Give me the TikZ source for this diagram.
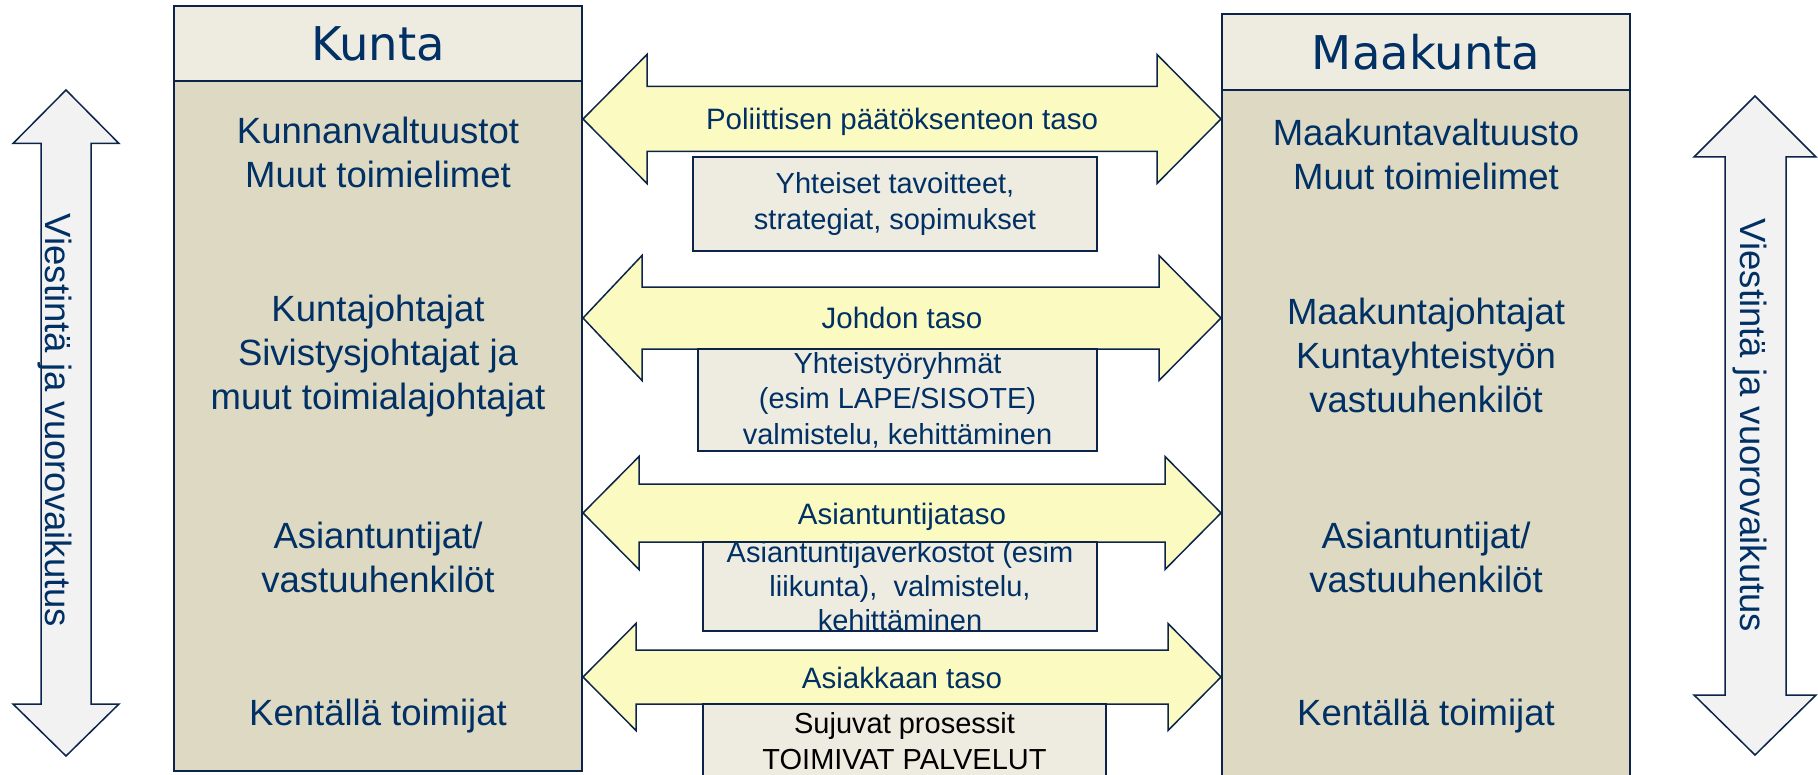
\documentclass[tikz,border=0pt]{standalone}
\usepackage{fontspec}
\setmainfont{Liberation Sans}
\newfontfamily\headfont{DejaVu Sans}
\definecolor{navy}{RGB}{0,48,100}
\definecolor{linecol}{RGB}{12,36,74}
\definecolor{headfill}{RGB}{238,236,225}
\definecolor{bodyfill}{RGB}{221,217,195}
\definecolor{arrowfill}{RGB}{251,251,193}
\definecolor{greyfill}{RGB}{242,242,242}

\begin{document}
\begin{tikzpicture}[x=0.5pt, y=-0.5pt,
  headbox/.style={draw=linecol, line width=1pt, fill=headfill, inner sep=0pt, text=navy, font=\headfont\fontsize{23.25}{28}\selectfont},
  bodybox/.style={draw=linecol, line width=1pt, fill=bodyfill, inner sep=0pt},
  roletext/.style={align=center, inner sep=0pt, text=navy, font=\fontsize{18.25}{22}\selectfont},
  tasoarrow/.style={draw=linecol, line width=0.75pt, fill=arrowfill},
  tasolabel/.style={inner sep=0pt, text=navy, font=\fontsize{14.75}{17.5}\selectfont},
  infobox/.style={draw=linecol, line width=0.75pt, fill=headfill, inner sep=0pt, align=center, text=navy, font=\fontsize{14.5}{17.75}\selectfont},
  viestarrow/.style={draw=linecol, line width=0.75pt, fill=greyfill},
  viestlabel/.style={rotate=-90, inner sep=0pt, text=navy, font=\fontsize{18.25}{22}\selectfont}]
  \useasboundingbox (0,0) rectangle (1818,775);

  % Draw the two columns
  \node[bodybox, minimum width=204pt, minimum height=345pt] (kuntabody) at (378,426) {};
  \node[headbox, minimum width=204pt, minimum height=37.5pt] (kunta) at (378,43.5) {Kunta};
  \node[bodybox, minimum width=204pt, minimum height=355pt] (maakuntabody) at (1426,445) {};
  \node[headbox, minimum width=204pt, minimum height=38pt] (maakunta) at (1426,52) {Maakunta};

  % Who acts on each level
  \node[roletext] (kvalt) at (378,152) {Kunnanvaltuustot\\Muut toimielimet};
  \node[roletext] (kjoht) at (378,356) {Kuntajohtajat\\Sivistysjohtajat ja\\muut toimialajohtajat};
  \node[roletext] (kasian) at (378,557.5) {Asiantuntijat/\\vastuuhenkilöt};
  \node[roletext] (kkent) at (378,716) {Kentällä toimijat};
  \node[roletext] (mvalt) at (1426,154) {Maakuntavaltuusto\\Muut toimielimet};
  \node[roletext] (mjoht) at (1426,355.5) {Maakuntajohtajat\\Kuntayhteistyön\\vastuuhenkilöt};
  \node[roletext] (masian) at (1426,557.5) {Asiantuntijat/\\vastuuhenkilöt};
  \node[roletext] (mkent) at (1426,716) {Kentällä toimijat};

  % Communication arrows on both sides
  \draw[viestarrow] (66,90) -- (119,143.5) -- (91,143.5) -- (91,704) -- (119,704) -- (66,756)
    -- (13,704) -- (41,704) -- (41,143.5) -- (13,143.5) -- cycle;
  \node[viestlabel] (viestl) at (55,420.5) {Viestintä ja vuorovaikutus};
  \draw[viestarrow] (1755,96) -- (1816,157) -- (1786,157) -- (1786,695) -- (1816,695) -- (1755,755)
    -- (1694,695) -- (1725,695) -- (1725,157) -- (1694,157) -- cycle;
  \node[viestlabel] (viestr) at (1750,425.5) {Viestintä ja vuorovaikutus};

  % Level arrows between the columns
  \foreach \y/\hh/\hs/\xl/\xr/\ly/\nm/\txt in {
      119/64.5/32.5/647/1157/122/poli/Poliittisen päätöksenteon taso,
      318/62.5/31/642/1159/318/johto/Johdon taso,
      513/56.5/29/639/1165/516.5/asiant/Asiantuntijataso,
      677/53.5/27/636/1168/678/asiak/Asiakkaan taso} {
    \draw[tasoarrow] (583,\y) -- (\xl,\y-\hh) -- (\xl,\y-\hs) -- (\xr,\y-\hs) -- (\xr,\y-\hh) -- (1221,\y)
      -- (\xr,\y+\hh) -- (\xr,\y+\hs) -- (\xl,\y+\hs) -- (\xl,\y+\hh) -- cycle;
    \node[tasolabel] (\nm) at (902,\ly) {\txt};
  }

  % What is done together
  \node[infobox, minimum width=202pt, minimum height=47pt] (tavoit) at (895,204) {Yhteiset tavoitteet,\\strategiat, sopimukset};
  \node[infobox, minimum width=199.5pt, minimum height=51pt] (ryhmat) at (897.5,400) {Yhteistyöryhmät\\(esim LAPE/SISOTE)\\valmistelu, kehittäminen};
  \node[infobox, minimum width=197pt, minimum height=44.5pt, font=\fontsize{14.5}{17}\selectfont] (verkost) at (900,586.5) {Asiantuntijaverkostot (esim\\liikunta),\ \ valmistelu,\\kehittäminen};
  \node[infobox, text=black, minimum width=201.5pt, minimum height=37pt] (palvel) at (904.5,741) {Sujuvat prosessit\\TOIMIVAT PALVELUT};
\end{tikzpicture}
\end{document}
